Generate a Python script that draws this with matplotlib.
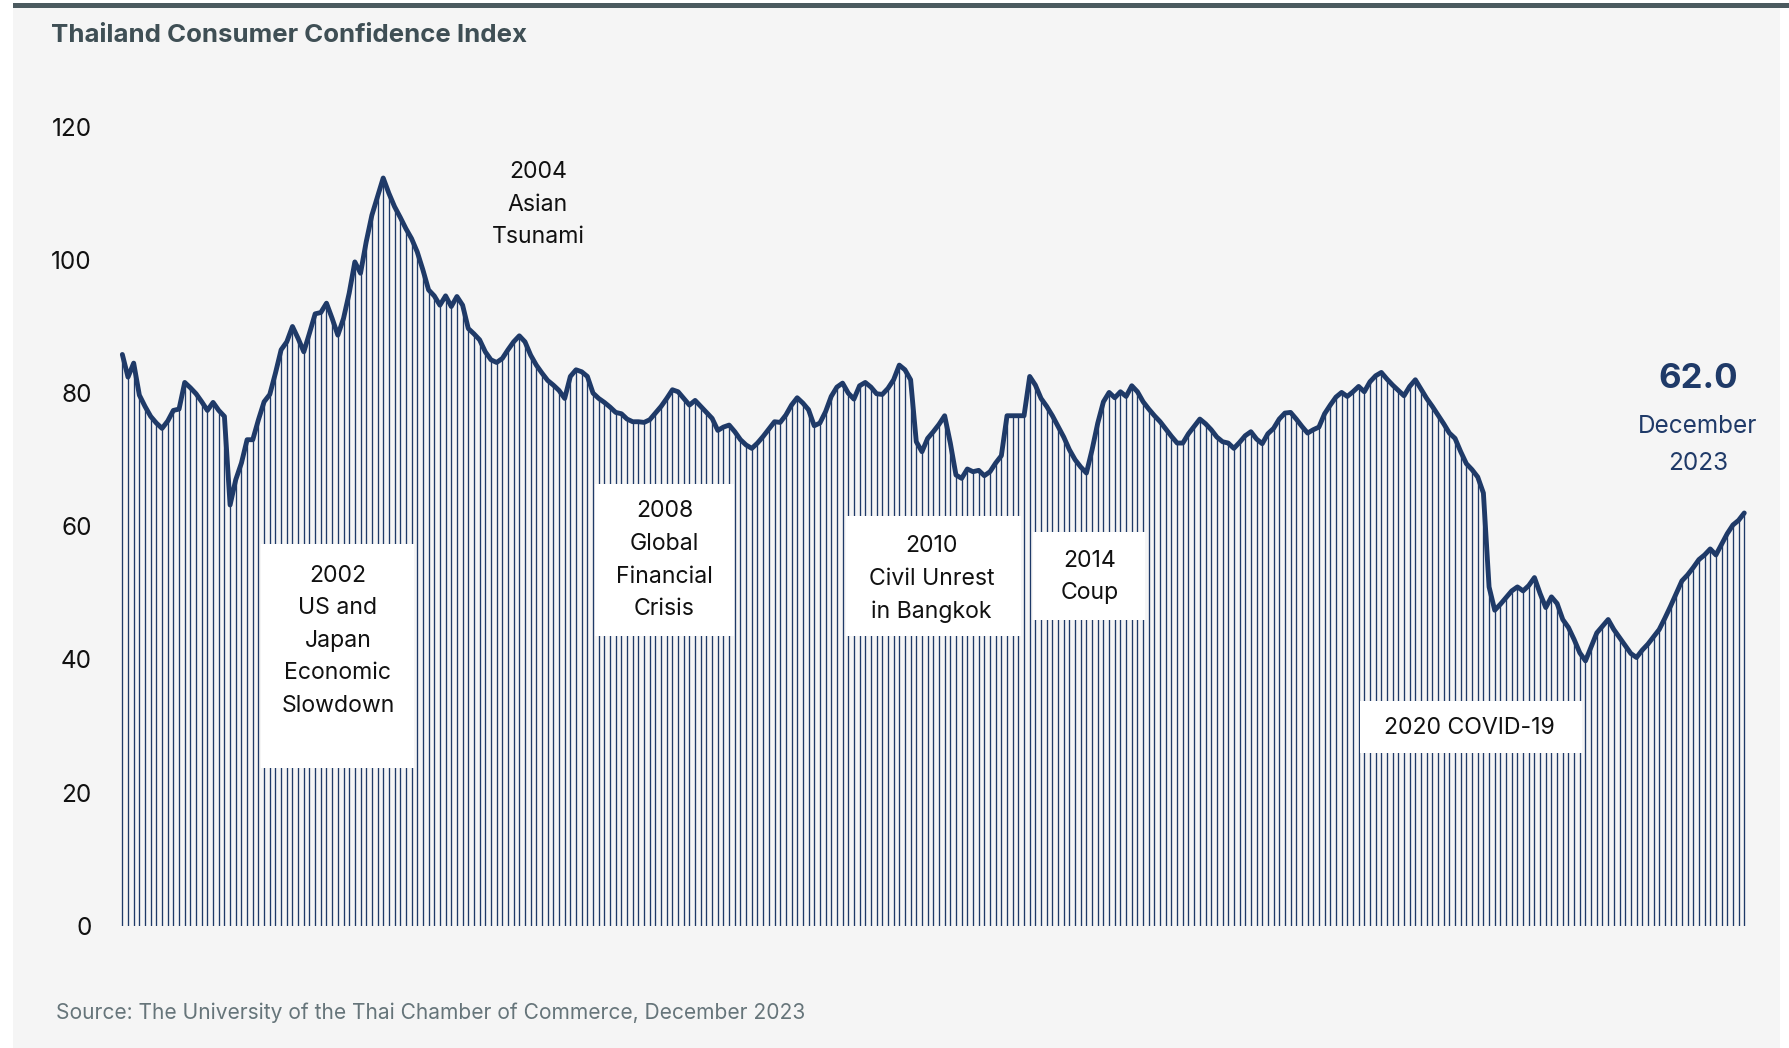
import numpy as np
import matplotlib.pyplot as plt
from matplotlib.patches import Rectangle

plt.rcParams['font.family'] = ['Inter', 'DejaVu Sans']

# Thailand Consumer Confidence Index, monthly, ending December 2023
cci = [
    85.8, 82.4, 84.5, 79.7, 78.0, 76.5, 75.5, 74.7, 75.8, 77.4, 77.6, 81.6,
    80.8, 79.9, 78.7, 77.4, 78.6, 77.4, 76.5, 63.2, 67.0, 69.5, 73.0, 73.0,
    76.0, 78.7, 79.8, 83.0, 86.5, 87.7, 90.0, 88.2, 86.2, 89.0, 91.9, 92.1,
    93.5, 91.2, 88.7, 91.2, 95.0, 99.7, 98.0, 102.7, 106.7, 109.5, 112.3, 110.0,
    108.0, 106.4, 104.7, 103.2, 101.2, 98.5, 95.5, 94.6, 93.2, 94.6, 93.0, 94.5,
    93.2, 89.7, 88.9, 88.0, 86.2, 85.0, 84.6, 85.2, 86.5, 87.7, 88.6, 87.7,
    85.7, 84.2, 83.0, 81.9, 81.2, 80.4, 79.2, 82.5, 83.5, 83.2, 82.5, 80.0,
    79.2, 78.6, 77.9, 77.1, 76.9, 76.1, 75.7, 75.7, 75.6, 76.0, 77.0, 78.0,
    79.2, 80.5, 80.2, 79.2, 78.2, 78.9, 78.0, 77.1, 76.2, 74.4, 74.9, 75.2,
    74.2, 73.0, 72.2, 71.7, 72.5, 73.5, 74.6, 75.7, 75.6, 76.7, 78.2, 79.3,
    78.5, 77.5, 75.1, 75.5, 77.2, 79.5, 80.9, 81.5, 80.0, 79.1, 81.1, 81.6,
    80.9, 79.9, 79.8, 80.7, 82.0, 84.2, 83.5, 82.0, 72.7, 71.2, 73.2, 74.2,
    75.3, 76.6, 72.5, 67.7, 67.2, 68.6, 68.2, 68.4, 67.6, 68.2, 69.5, 70.6,
    76.6, 76.6, 76.6, 76.6, 82.5, 81.2, 79.2, 78.0, 76.6, 75.0, 73.4, 71.5,
    70.0, 68.9, 68.0, 71.5, 75.5, 78.7, 80.1, 79.3, 80.2, 79.5, 81.1, 80.2,
    78.7, 77.6, 76.6, 75.7, 74.6, 73.5, 72.5, 72.5, 73.9, 75.0, 76.1, 75.4,
    74.5, 73.4, 72.7, 72.5, 71.7, 72.6, 73.6, 74.2, 73.1, 72.4, 73.9, 74.7,
    76.1, 77.0, 77.1, 76.1, 75.0, 74.0, 74.5, 74.9, 76.9, 78.2, 79.4, 80.1,
    79.5, 80.2, 81.0, 80.2, 81.7, 82.6, 83.1, 82.1, 81.2, 80.4, 79.6, 81.0,
    82.0, 80.6, 79.2, 78.0, 76.7, 75.4, 74.0, 73.2, 71.2, 69.4, 68.5, 67.4,
    65.0, 50.9, 47.4, 48.3, 49.3, 50.3, 50.9, 50.3, 51.1, 52.3, 49.9, 47.8,
    49.4, 48.4, 46.0, 44.8, 43.0, 41.0, 39.8, 41.9, 44.0, 45.0, 46.0, 44.5,
    43.3, 42.1, 40.9, 40.3, 41.4, 42.3, 43.4, 44.5, 46.2, 48.0, 49.9, 51.8,
    52.7, 53.8, 55.0, 55.7, 56.6, 55.7, 57.3, 58.9, 60.2, 60.9, 62.0,
]
months = np.arange(len(cci))

y_ticks = [0, 20, 40, 60, 80, 100, 120]

event_labels = [
    '2002\nUS and\nJapan\nEconomic\nSlowdown',
    '2004\nAsian\nTsunami',
    '2008\nGlobal\nFinancial\nCrisis',
    '2010\nCivil Unrest\nin Bangkok',
    '2014\nCoup',
    '2020 COVID-19',
]
# text centre (month index, index value)
event_text_pos = [(38.0, 42.8), (73.3, 108.3), (95.6, 54.9),
                  (142.7, 52.1), (170.5, 52.4), (237.5, 29.7)]
# white box (x0, x1, y0, y1) in data units, None = no box
event_boxes = [(24.5, 51.5, 23.7, 57.3), None, (83.3, 107.9, 43.5, 66.3),
               (127.6, 158.4, 43.5, 61.5), (160.6, 180.3, 45.9, 59.1),
               (218.2, 257.4, 25.9, 33.8)]

navy = '#1f3a68'
W, H = 1790, 1048

fig = plt.figure(figsize=(W / 100, H / 100), dpi=100)
fig.patch.set_facecolor('white')
fig.patches.append(Rectangle((13 / W, 0), (1780 - 13) / W, (H - 7) / H,
                             transform=fig.transFigure, fc='#f5f5f5', ec='none', zorder=-10))
fig.patches.append(Rectangle((13 / W, (H - 7.5) / H), (W - 13) / W, 4.8 / H,
                             transform=fig.transFigure, fc='#4b5a5f', ec='none', zorder=-10))

ax = fig.add_axes([119.5 / W, 122.1 / H, 1627.6 / W, 799.2 / H])
ax.set_zorder(1)
ax.set_facecolor('none')
for s in ax.spines.values():
    s.set_visible(False)

ax.vlines(months, 0, cci, color=navy, lw=0.95, zorder=1)
ax.plot(months, cci, color=navy, lw=3.5, solid_joinstyle='round',
        solid_capstyle='round', zorder=3, clip_on=False)

ax.set_xlim(-0.5, len(cci) - 0.5)
ax.set_ylim(0, 120)
ax.set_xticks([])
ax.set_yticks(y_ticks)
ax.set_yticklabels([str(v) for v in y_ticks])
ax.tick_params(axis='y', length=0, pad=20, labelsize=17.5, labelcolor='#111111')

for label, (tx, ty), box in zip(event_labels, event_text_pos, event_boxes):
    if box is not None:
        x0, x1, y0, y1 = box
        ax.add_patch(Rectangle((x0, y0), x1 - x0, y1 - y0, fc='white', ec='none', zorder=2))
    ax.text(tx, ty, label, ha='center', va='center', fontsize=16.6, color='#111111',
            linespacing=1.62, zorder=4)

ax.text(277.8, 82.1, f'{cci[-1]:.1f}', ha='center', va='center', fontsize=25,
        fontweight='bold', color=navy)
ax.text(277.8, 72.2, 'December\n2023', ha='center', va='center', fontsize=17.5,
        color=navy, linespacing=1.8)

fig.text(51 / W, 1 - 35.5 / H, 'Thailand Consumer Confidence Index', ha='left', va='center',
         fontsize=18.6, fontweight='bold', color='#3f4f55')
fig.text(56 / W, 1 - 1013 / H,
         'Source: The University of the Thai Chamber of Commerce, December 2023',
         ha='left', va='center', fontsize=15.1, color='#66757a')

fig.savefig('out.png', dpi=100, facecolor=fig.get_facecolor())
